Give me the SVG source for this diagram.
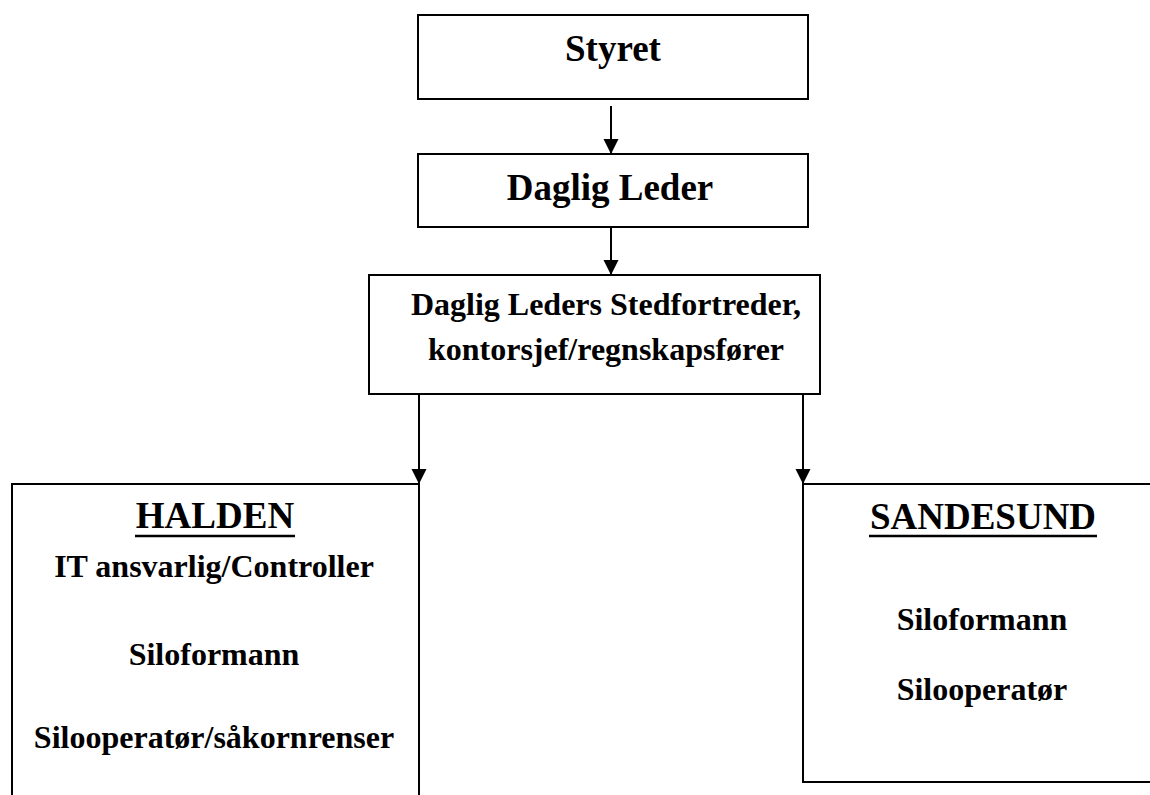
<svg xmlns="http://www.w3.org/2000/svg" width="1150" height="795" viewBox="0 0 1150 795">
<defs>
<marker id="ah" markerUnits="userSpaceOnUse" markerWidth="16" markerHeight="16" refX="15" refY="7.5" orient="auto">
<path d="M0,0 L15,7.5 L0,15 Z" fill="#000"/>
</marker>
<style>
.box{fill:#fff;stroke:#000;stroke-width:2}
.t{font-family:"Liberation Serif","Times New Roman",serif;font-weight:bold;fill:#000;text-anchor:middle}
.big{font-size:37px}
.mid{font-size:32px}
.conn{stroke:#000;stroke-width:2;fill:none;marker-end:url(#ah)}
.ul{stroke:#000;stroke-width:2.5}
</style>
</defs>
<rect width="1150" height="795" fill="#fff"/>
<g id="styret">
<rect class="box" x="418" y="15" width="390" height="84"/>
<text class="t big" x="613" y="61">Styret</text>
</g>
<g id="daglig-leder">
<rect class="box" x="418" y="154" width="390" height="73"/>
<text class="t big" x="610" y="200">Daglig Leder</text>
</g>
<g id="stedfortreder">
<rect class="box" x="369" y="275" width="451" height="119"/>
<text class="t mid" x="606" y="315">Daglig Leders Stedfortreder,</text>
<text class="t mid" x="606" y="360">kontorsjef/regnskapsfører</text>
</g>
<g id="halden">
<path class="box" d="M12,800 L12,484 L419,484 L419,800"/>
<text class="t big" x="215" y="528">HALDEN</text>
<line class="ul" x1="135" y1="536" x2="295" y2="536"/>
<text class="t mid" x="214" y="577">IT ansvarlig/Controller</text>
<text class="t mid" x="214" y="665">Siloformann</text>
<text class="t mid" x="214" y="748">Silooperatør/såkornrenser</text>
</g>
<g id="sandesund">
<rect class="box" x="803" y="484" width="360" height="298"/>
<text class="t big" x="983" y="529">SANDESUND</text>
<line class="ul" x1="869" y1="536" x2="1097" y2="536"/>
<text class="t mid" x="982" y="630">Siloformann</text>
<text class="t mid" x="982" y="700">Silooperatør</text>
</g>
<g id="connectors">
<line class="conn" x1="611" y1="106" x2="611" y2="154"/>
<line class="conn" x1="611" y1="227" x2="611" y2="275"/>
<line class="conn" x1="419" y1="394" x2="419" y2="484"/>
<line class="conn" x1="803" y1="394" x2="803" y2="484"/>
</g>
</svg>
